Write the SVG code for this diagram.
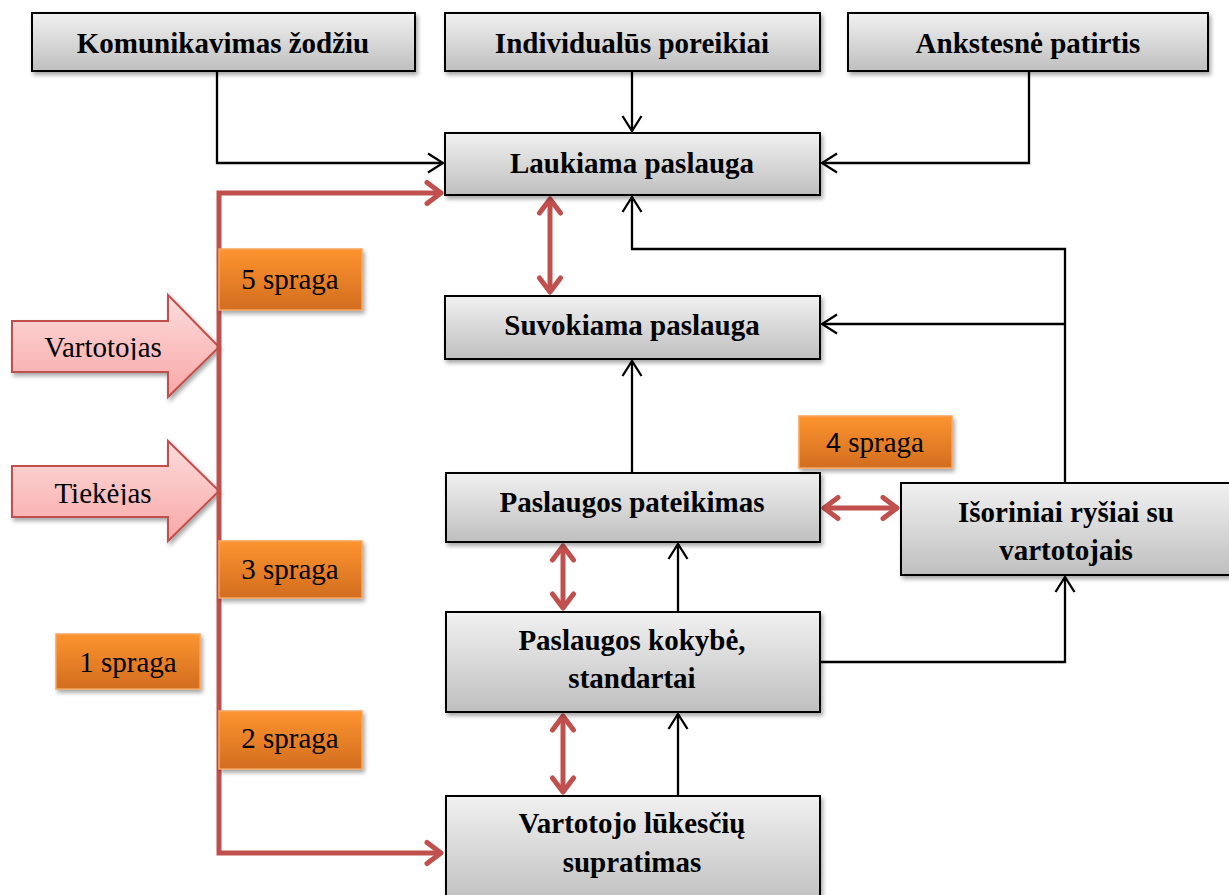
<svg xmlns="http://www.w3.org/2000/svg" width="1229" height="895" viewBox="0 0 1229 895">
  <defs>
    <linearGradient id="gGray" x1="0" y1="0" x2="0" y2="1">
      <stop offset="0" stop-color="#f1f1f1"/>
      <stop offset="1" stop-color="#bfbfbf"/>
    </linearGradient>
    <linearGradient id="gOrange" x1="0" y1="0" x2="0" y2="1">
      <stop offset="0" stop-color="#fd9430"/>
      <stop offset="1" stop-color="#d26d1f"/>
    </linearGradient>
    <linearGradient id="gPink" x1="0" y1="0" x2="0" y2="1">
      <stop offset="0" stop-color="#fddcdc"/>
      <stop offset="1" stop-color="#f8a7a7"/>
    </linearGradient>
    <filter id="shadow" x="-10%" y="-20%" width="120%" height="150%">
      <feDropShadow dx="2" dy="3" stdDeviation="2" flood-color="#000" flood-opacity="0.35"/>
    </filter>
    <marker id="ah" viewBox="-18 -12 20 24" refX="0" refY="0" markerWidth="20" markerHeight="24" orient="auto" markerUnits="userSpaceOnUse">
      <path d="M-15,-9.5 L0,0 L-15,9.5" fill="none" stroke="#000" stroke-width="2.3"/>
    </marker>
    <marker id="rh" viewBox="-18 -14 22 28" refX="0" refY="0" markerWidth="22" markerHeight="28" orient="auto-start-reverse" markerUnits="userSpaceOnUse">
      <path d="M-14,-10.5 L0,0 L-14,10.5" fill="none" stroke="#c0504d" stroke-width="5" stroke-linecap="round" stroke-linejoin="round"/>
    </marker>
    <clipPath id="clipV"><rect x="12" y="300" width="200" height="60"/></clipPath>
    <clipPath id="clipT"><rect x="12" y="445" width="200" height="60"/></clipPath>
  </defs>
  <style>
    .node rect { fill: url(#gGray); stroke: #000; stroke-width: 2; filter: url(#shadow); }
    .node text { font-family: "Liberation Serif", "Times New Roman", serif; font-weight: bold; font-size: 29px; fill: #000; text-anchor: middle; }
    .gap rect { fill: url(#gOrange); stroke: #f6a55e; stroke-width: 1.5; filter: url(#shadow); }
    .gap text { font-family: "Liberation Serif", "Times New Roman", serif; font-size: 29px; fill: #000; text-anchor: middle; }
    .side polygon { fill: url(#gPink); stroke: #c0504d; stroke-width: 2; filter: url(#shadow); }
    .side text { font-family: "Liberation Serif", "Times New Roman", serif; font-size: 29px; fill: #000; text-anchor: middle; }
    .black path { fill: none; stroke: #000; stroke-width: 2.3; marker-end: url(#ah); }
    .red path { fill: none; stroke: #c0504d; stroke-width: 5; marker-start: url(#rh); marker-end: url(#rh); }
  </style>

  <rect width="1229" height="895" fill="#fff"/>

  <!-- divider between customer and provider side -->
  <line x1="12" y1="413" x2="1229" y2="413" stroke="#000" stroke-width="4.5" filter="url(#shadow)"/>

  <!-- side labels -->
  <g id="vartotojas" class="side">
    <polygon points="12,321 168,321 168,295 219,347 168,397 168,372 12,372"/>
    <text x="103" y="357" clip-path="url(#clipV)">Vartotojas</text>
  </g>
  <g id="tiekejas" class="side">
    <polygon points="12,466 168,466 168,441 219,491 168,541 168,517 12,517"/>
    <text x="103" y="503" clip-path="url(#clipT)">Tiekėjas</text>
  </g>

  <!-- connectors -->
  <g id="connectors">
    <g class="black">
      <path d="M217,71 V163 H443"/>
      <path d="M632,71 V131"/>
      <path d="M1029,71 V163 H822"/>
      <path d="M1065,483 V249 H632 V197"/>
      <path d="M1065,324 H822"/>
      <path d="M632,473 V361"/>
      <path d="M678,612 V544"/>
      <path d="M678,796 V714"/>
      <path d="M820,662 H1065 V577"/>
    </g>
    <g class="red">
      <path d="M441,193 H219 V853 H441"/>
      <path d="M550,199 V292"/>
      <path d="M563,546 V608"/>
      <path d="M563,716 V792"/>
      <path d="M824,508 H897"/>
    </g>
  </g>

  <!-- nodes -->
  <g id="komunikavimas" class="node">
    <rect x="32" y="13" width="383" height="58"/>
    <text x="223" y="53">Komunikavimas žodžiu</text>
  </g>
  <g id="individualus" class="node">
    <rect x="445" y="13" width="375" height="58"/>
    <text x="632" y="53">Individualūs poreikiai</text>
  </g>
  <g id="ankstesne" class="node">
    <rect x="848" y="13" width="360" height="58"/>
    <text x="1028" y="53">Ankstesnė patirtis</text>
  </g>
  <g id="laukiama" class="node">
    <rect x="445" y="133" width="375" height="62"/>
    <text x="632" y="173">Laukiama paslauga</text>
  </g>
  <g id="suvokiama" class="node">
    <rect x="445" y="296" width="375" height="63"/>
    <text x="632" y="335">Suvokiama paslauga</text>
  </g>
  <g id="pateikimas" class="node">
    <rect x="446" y="473" width="374" height="69"/>
    <text x="632" y="512">Paslaugos pateikimas</text>
  </g>
  <g id="isoriniai" class="node">
    <rect x="901" y="483" width="330" height="92"/>
    <text x="1066" y="522">Išoriniai ryšiai su</text>
    <text x="1066" y="560">vartotojais</text>
  </g>
  <g id="kokybe" class="node">
    <rect x="446" y="612" width="374" height="100"/>
    <text x="632" y="650">Paslaugos kokybė,</text>
    <text x="632" y="688">standartai</text>
  </g>
  <g id="lukesciai" class="node">
    <rect x="446" y="796" width="374" height="110"/>
    <text x="632" y="833">Vartotojo lūkesčių</text>
    <text x="632" y="872">supratimas</text>
  </g>

  <!-- gap labels -->
  <g id="spraga5" class="gap">
    <rect x="219" y="249" width="143" height="61"/>
    <text x="290" y="289">5 spraga</text>
  </g>
  <g id="spraga4" class="gap">
    <rect x="799" y="416" width="153" height="52"/>
    <text x="875" y="452"><tspan font-family="Liberation Sans, Arial, sans-serif" font-size="27">4</tspan> spraga</text>
  </g>
  <g id="spraga3" class="gap">
    <rect x="219" y="541" width="143" height="57"/>
    <text x="290" y="579">3 spraga</text>
  </g>
  <g id="spraga1" class="gap">
    <rect x="56" y="634" width="144" height="55"/>
    <text x="128" y="672">1 spraga</text>
  </g>
  <g id="spraga2" class="gap">
    <rect x="219" y="711" width="143" height="58"/>
    <text x="290" y="748">2 spraga</text>
  </g>
</svg>
